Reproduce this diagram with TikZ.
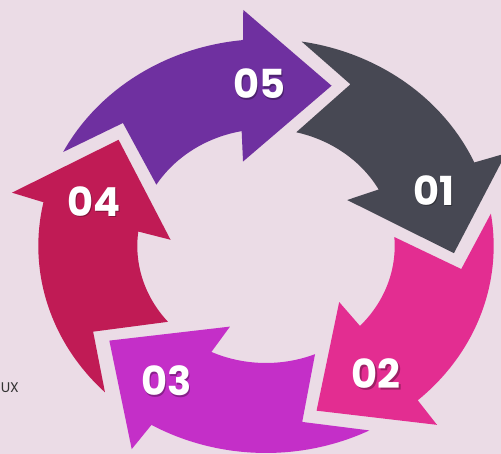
\documentclass[tikz,border=0pt]{standalone}
\usepackage{fontspec}
\usepackage{tikz}
\newfontfamily\numfont{Poppins}
\definecolor{bgpink}{RGB}{235,220,230}
\definecolor{stepgray}{RGB}{71,72,83}
\definecolor{steppink}{RGB}{227,45,145}
\definecolor{stepmagenta}{RGB}{196,47,200}
\definecolor{stepcrimson}{RGB}{192,27,85}
\definecolor{steppurple}{RGB}{111,48,160}
\definecolor{uxgray}{RGB}{51,51,51}

\begin{document}
\begin{tikzpicture}[x=1.1pt, y=1pt,
    numlabel/.style={text=white, inner sep=0pt, font=\numfont\bfseries\fontsize{40}{44}\selectfont},
    numshade/.style={numlabel, text=black, opacity=0.3}]
    \useasboundingbox (-241.82,-208) rectangle (213.64,246);
    \fill[bgpink] (-241.82,-208) rectangle (213.64,246);

    % five curved arrows, tip angles 72 degrees apart, running clockwise
    \foreach \col/\lbl [count=\i from 0] in {stepgray/01, steppink/02, stepmagenta/03, stepcrimson/04, steppurple/05} {
        \pgfmathsetmacro{\ang}{-2.4 - 72*\i}
        \fill[\col] (\ang:171) -- ({\ang+25.4}:237) -- ({\ang+26.2}:207)
            -- plot[domain={\ang+26.2}:{\ang+83.4}, samples=40] (\x:207)
            -- ({\ang+67}:179) -- ({\ang+78.8}:117)
            -- plot[domain={\ang+78.8}:{\ang+31.3}, samples=40] (\x:117)
            -- ({\ang+34.3}:87) -- cycle;
        \node[numshade, xshift=1.2pt, yshift=-1.5pt] (s\lbl) at ({\ang+22.5}:162.5) {\lbl};
        \node[numlabel] (n\lbl) at ({\ang+22.5}:162.5) {\lbl};
    }

    \node[font=\numfont\fontsize{14}{16}\selectfont, text=uxgray, anchor=west, inner sep=0pt] (ux) at (-241.3,-142) {UX};
\end{tikzpicture}
\end{document}
